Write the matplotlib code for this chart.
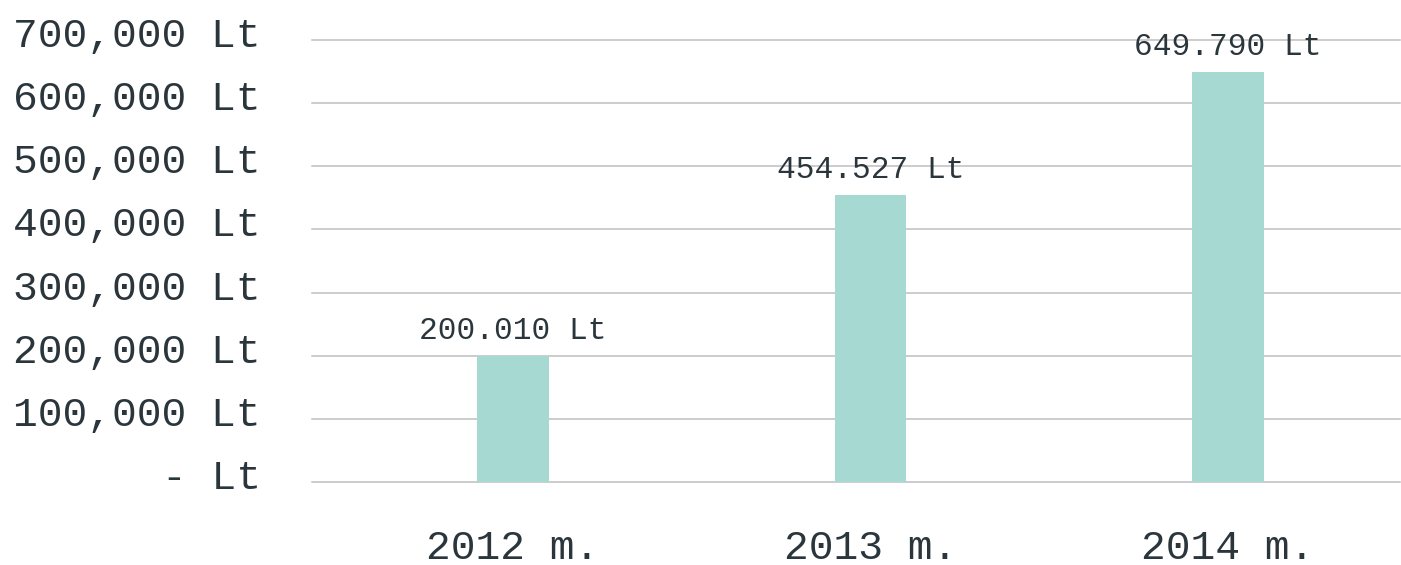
import matplotlib
matplotlib.use("Agg")
import matplotlib.pyplot as plt
from matplotlib.ticker import FuncFormatter, MultipleLocator
from matplotlib.transforms import ScaledTranslation

# data
years = ["2012 m.", "2013 m.", "2014 m."]
amounts = [200010, 454527, 649790]
amount_labels = ["200.010 Lt", "454.527 Lt", "649.790 Lt"]

bar_color = "#a6d9d1"
text_color = "#2b363c"
grid_color = "#bfbfbf"

plt.rcParams["font.family"] = ["Liberation Mono", "DejaVu Sans Mono"]

fig = plt.figure(figsize=(14.01, 5.65), dpi=100)
ax = fig.add_axes([0.2227, 0.1469, 0.7766, 0.7822])

x = list(range(len(years)))
bars = ax.bar(x, amounts, width=0.2, color=bar_color, zorder=3)

for rect, lab in zip(bars, amount_labels):
    ax.annotate(lab, (rect.get_x() + rect.get_width() / 2, rect.get_height()),
                xytext=(0, 12), textcoords="offset points",
                ha="center", va="baseline", fontsize=22.5, color=text_color,
                zorder=4)

ax.set_xlim(-0.562, 2.481)
ax.set_ylim(0, 700000)
ax.yaxis.set_major_locator(MultipleLocator(100000))


def lt_fmt(v, pos):
    if v == 0:
        return "- Lt"
    return "{:,.0f} Lt".format(v)


ax.yaxis.set_major_formatter(FuncFormatter(lt_fmt))
ax.set_xticks(x)
ax.set_xticklabels(years)

ax.tick_params(axis="y", length=0, pad=37, labelsize=29.7, labelcolor=text_color)
ax.tick_params(axis="x", length=0, pad=34, labelsize=29.7, labelcolor=text_color)

# y labels sit a little above their gridlines in the original
shift = ScaledTranslation(0, 8 / 100, fig.dpi_scale_trans)
for lbl in ax.get_yticklabels():
    lbl.set_transform(lbl.get_transform() + shift)

ax.grid(axis="y", color=grid_color, linewidth=1.1, zorder=0)
for gl in ax.get_ygridlines():
    gl.set_clip_on(False)
for s in ax.spines.values():
    s.set_visible(False)

fig.savefig("out.png", dpi=100)
